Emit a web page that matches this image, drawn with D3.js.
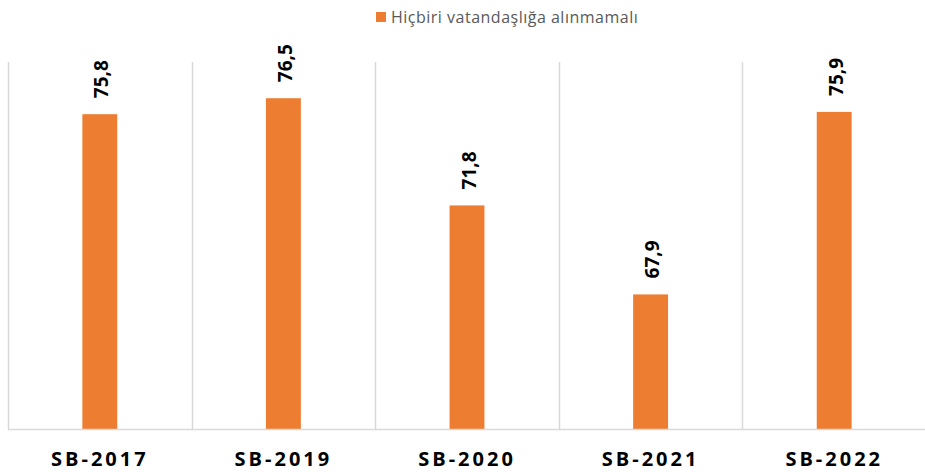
<!DOCTYPE html>
<html>
<head>
  <meta charset="utf-8">
  <title>Hiçbiri vatandaşlığa alınmamalı</title>
  <script src="https://d3js.org/d3.v7.min.js"></script>
  <style>
    body { margin: 0; background: #fff; }
  </style>
</head>
<body>
  <div id="chart"></div>
  <script type="text/javascript">
    var categories = ["SB-2017", "SB-2019", "SB-2020", "SB-2021", "SB-2022"];
    var values = [75.8, 76.5, 71.8, 67.9, 75.9];
    var seriesName = "Hiçbiri vatandaşlığa alınmamalı";

    var width = 925, height = 472;
    var margin = { top: 62, right: -1, bottom: 43, left: 8 };

    var svg = d3.select("#chart").append("svg")
      .attr("width", width)
      .attr("height", height);

    var x = d3.scaleBand()
      .domain(categories)
      .range([margin.left, width - margin.right])
      .padding(0);
    var y = d3.scaleLinear()
      .domain([62, 78])
      .range([height - margin.bottom, margin.top + 2]);

    var barW = x.bandwidth() * 0.19;
    var baseY = y(62);

    // vertical separators between categories
    var edges = categories.map(function (d) { return x(d); });
    edges.push(x(categories[categories.length - 1]) + x.bandwidth());
    svg.selectAll(".grid").data(edges)
      .enter().append("line")
      .attr("class", "grid")
      .attr("x1", function (d) { return Math.round(d) + 0.5; })
      .attr("x2", function (d) { return Math.round(d) + 0.5; })
      .attr("y1", margin.top)
      .attr("y2", baseY)
      .attr("stroke", "#d9d9d9")
      .attr("stroke-width", 1.5);

    svg.selectAll(".bar").data(values)
      .enter().append("rect")
      .attr("class", "bar")
      .attr("fill", "#ed7d31")
      .attr("x", function (d, i) { return x(categories[i]) + x.bandwidth() / 2 - barW / 2; })
      .attr("width", barW)
      .attr("y", function (d) { return y(d); })
      .attr("height", function (d) { return baseY - y(d); });

    // baseline
    svg.append("line")
      .attr("x1", margin.left)
      .attr("x2", width - margin.right)
      .attr("y1", Math.round(baseY) + 0.5)
      .attr("y2", Math.round(baseY) + 0.5)
      .attr("stroke", "#d9d9d9")
      .attr("stroke-width", 1.5);

    // value labels, rotated
    svg.selectAll(".val").data(values)
      .enter().append("text")
      .attr("class", "val")
      .attr("transform", function (d, i) {
        var cx = x(categories[i]) + x.bandwidth() / 2 + 2;
        return "translate(" + cx + "," + (y(d) - 16) + ") rotate(-90)";
      })
      .attr("dy", "0.35em")
      .attr("font-family", "'Open Sans', sans-serif")
      .attr("font-weight", "bold")
      .attr("font-size", "19px")
      .attr("fill", "#000")
      .text(function (d) { return d.toFixed(1).replace(".", ","); });

    // category labels
    var xAxis = svg.append("g")
      .attr("transform", "translate(0," + baseY + ")")
      .call(d3.axisBottom(x).tickSize(0).tickPadding(0));
    xAxis.select(".domain").remove();
    xAxis.selectAll("text")
      .attr("y", 37)
      .attr("dy", 0)
      .attr("font-family", "'Open Sans', sans-serif")
      .attr("font-weight", "bold")
      .attr("font-size", "20px")
      .attr("letter-spacing", "3px")
      .attr("fill", "#000");

    // legend
    var legend = svg.append("g").attr("transform", "translate(376,12)");
    legend.append("rect")
      .attr("width", 10)
      .attr("height", 10)
      .attr("fill", "#ed7d31");
    legend.append("text")
      .attr("x", 15)
      .attr("y", 11)
      .attr("font-family", "'Open Sans', sans-serif")
      .attr("font-size", "16px")
      .attr("letter-spacing", "0.5px")
      .attr("fill", "#595959")
      .text(seriesName);
  </script>
</body>
</html>
